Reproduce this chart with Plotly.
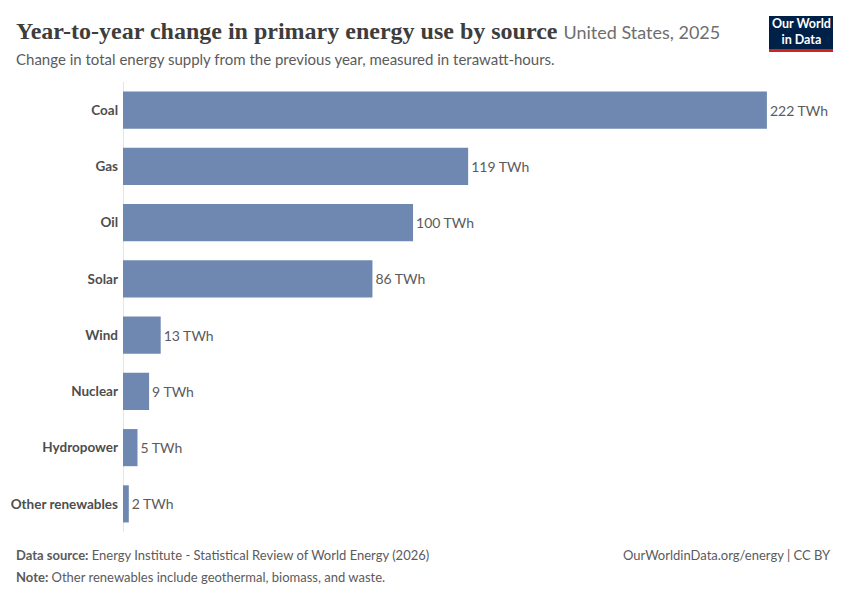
import plotly.graph_objects as go

categories = ["Coal", "Gas", "Oil", "Solar", "Wind", "Nuclear", "Hydropower", "Other renewables"]
values = [222, 119, 100, 86, 13, 9, 5, 2]
labels = [f"{v} TWh" for v in values]

BAR = "#6f88b1"
GREY = "#5b5b5b"

# plot area in page pixels: left 123, top 82, width 717, height 450
def px(x):
    return (x - 123) / 717

def py(y):
    return (532 - y) / 450

fig = go.Figure(go.Bar(
    x=values, y=categories, orientation="h",
    marker=dict(color=BAR, line=dict(width=0)),
    text=labels, textposition="outside", cliponaxis=False,
    textfont=dict(family="Lato", size=14, color=GREY),
    width=0.66, hoverinfo="skip",
))

fig.update_layout(
    width=850, height=600,
    margin=dict(l=115, r=18, t=74, b=76, autoexpand=False),
    paper_bgcolor="white", plot_bgcolor="white",
    showlegend=False,
    font=dict(family="Lato", color=GREY),
    xaxis=dict(range=[0, 247.2], visible=False, fixedrange=True, automargin=False),
    yaxis=dict(autorange="reversed", showgrid=False, showline=False, automargin=False,
               ticks="", ticklabelstandoff=4,
               tickfont=dict(family="Lato", size=13.5, color="#4d4d4d", weight="bold")),
    shapes=[
        dict(type="line", xref="x", yref="paper", x0=0, x1=0, y0=0, y1=1,
             line=dict(color="#cccccc", width=1), layer="below"),
        dict(type="rect", xref="paper", yref="paper",
             x0=px(769), x1=px(833), y0=py(16), y1=py(52),
             fillcolor="#002147", line=dict(width=0)),
        dict(type="rect", xref="paper", yref="paper",
             x0=px(769), x1=px(833), y0=py(49), y1=py(52),
             fillcolor="#ce261e", line=dict(width=0)),
    ],
    annotations=[
        dict(text="<b>Year-to-year change in primary energy use by source</b> "
                  "<span style='font-family:Lato;font-size:18px;color:#6e6e6e'>United States, 2025</span>",
             xref="paper", yref="paper", x=px(14), y=py(31),
             xanchor="left", yanchor="middle", showarrow=False,
             font=dict(family="Liberation Serif", size=24, color="#3d3d3d")),
        dict(text="Change in total energy supply from the previous year, measured in terawatt-hours.",
             xref="paper", yref="paper", x=px(14), y=py(59),
             xanchor="left", yanchor="middle", showarrow=False,
             font=dict(family="Lato", size=15, color="#5b5b5b")),
        dict(text="<b>Our World<br>in Data</b>", xref="paper", yref="paper",
             x=px(801), y=py(32), xanchor="center", yanchor="middle",
             showarrow=False, font=dict(family="Lato", size=12.5, color="white"),
             align="center"),
        dict(text="<b>Data source:</b> Energy Institute - Statistical Review of World Energy (2026)",
             xref="paper", yref="paper", x=px(14), y=py(555),
             xanchor="left", yanchor="middle", showarrow=False,
             font=dict(family="Lato", size=13, color="#5b5b5b")),
        dict(text="<b>Note:</b> Other renewables include geothermal, biomass, and waste.",
             xref="paper", yref="paper", x=px(14), y=py(577),
             xanchor="left", yanchor="middle", showarrow=False,
             font=dict(family="Lato", size=13, color="#5b5b5b")),
        dict(text="OurWorldinData.org/energy | CC BY",
             xref="paper", yref="paper", x=px(833), y=py(555),
             xanchor="right", yanchor="middle", showarrow=False,
             font=dict(family="Lato", size=13, color="#5b5b5b")),
    ],
)

fig.write_html("out.html")
